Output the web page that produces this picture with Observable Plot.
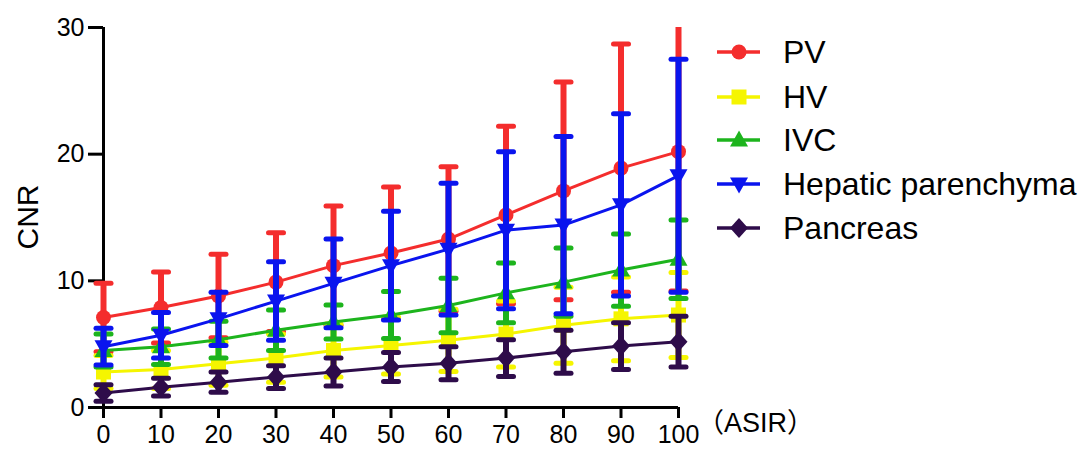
<!DOCTYPE html>
<html><head><meta charset="utf-8">
<script src="https://cdn.jsdelivr.net/npm/d3@7"></script>
<script src="https://cdn.jsdelivr.net/npm/@observablehq/plot@0.6"></script>
<style>
body{margin:0;background:#fff;}
#wrap{position:relative;width:1089px;height:449px;overflow:hidden;background:#fff;font-family:"Liberation Sans",Arial,"Noto Sans CJK SC",sans-serif;color:#000;}
#wrap svg.plot{position:absolute;left:0;top:0;}
.ylab{position:absolute;left:28px;top:217px;transform:translate(-50%,-50%) rotate(-90deg);font-size:30px;white-space:nowrap;line-height:1;}
.xlab{position:absolute;left:697px;top:410px;font-size:27px;white-space:nowrap;line-height:1;}
.leg{position:absolute;left:717px;height:36px;display:flex;align-items:center;font-size:32px;white-space:nowrap;line-height:1;}
.leg svg{margin-right:22px;}
</style></head><body><div id="wrap"></div>
<script>
// ASIR levels (x categories)
const asir = [0, 10, 20, 30, 40, 50, 60, 70, 80, 90, 100];
const yTicks = [0, 10, 20, 30];
const seriesNames = ["PV", "HV", "IVC", "Hepatic parenchyma", "Pancreas"];
// means
const pvMean  = [7.1, 7.9, 8.8, 9.9, 11.2, 12.2, 13.3, 15.2, 17.1, 18.9, 20.2];
const hvMean  = [2.8, 3.0, 3.45, 3.9, 4.5, 4.9, 5.3, 5.8, 6.5, 7.0, 7.3];
const ivcMean = [4.5, 4.8, 5.35, 6.1, 6.75, 7.3, 8.05, 9.05, 9.9, 10.85, 11.7];
const hepMean = [4.8, 5.7, 7.0, 8.4, 9.8, 11.2, 12.5, 14.0, 14.4, 16.0, 18.3];
const panMean = [1.15, 1.6, 2.0, 2.4, 2.8, 3.2, 3.5, 3.9, 4.4, 4.85, 5.2];
// standard deviations (error bars)
const pvSD  = [2.7, 2.8, 3.3, 3.9, 4.7, 5.2, 5.7, 7.0, 8.6, 9.8, 11.0];
const hvSD  = [1.3, 1.5, 1.7, 1.9, 2.1, 2.25, 2.45, 2.6, 3.0, 3.3, 3.35];
const ivcSD = [1.3, 1.4, 1.45, 1.6, 1.35, 1.85, 2.15, 2.35, 2.7, 2.85, 3.1];
const hepSD = [1.45, 1.8, 2.1, 3.1, 3.5, 4.3, 5.2, 6.2, 7.0, 7.2, 9.2];
const panSD = [0.65, 0.7, 0.8, 0.9, 1.1, 1.15, 1.3, 1.45, 1.7, 1.85, 2.0];

const colors = ["#f42d2d", "#f5f500", "#1db41d", "#0a14ee", "#2e0c4a"];

// marker shapes
const symSquare = {draw(c){ c.rect(-7.5, -7.5, 15, 15); }};
const symTriUp = {draw(c){ c.moveTo(0, -9.5); c.lineTo(9, 6.5); c.lineTo(-9, 6.5); c.closePath(); }};
const symTriDown = {draw(c){ c.moveTo(0, 9.5); c.lineTo(9, -6.5); c.lineTo(-9, -6.5); c.closePath(); }};
const symDiamond = {draw(c){ c.moveTo(0, -10); c.lineTo(9, 0); c.lineTo(0, 10); c.lineTo(-9, 0); c.closePath(); }};
const symCircle = {draw(c){ c.moveTo(7.5, 0); c.arc(0, 0, 7.5, 0, 2 * Math.PI); }};
const symCap = {draw(c){ c.moveTo(-7.5, 0); c.lineTo(7.5, 0); }};
const symbols = [symCircle, symSquare, symTriUp, symTriDown, symDiamond];

const means = [pvMean, hvMean, ivcMean, hepMean, panMean];
const sds = [pvSD, hvSD, ivcSD, hepSD, panSD];
const yMax = yTicks[yTicks.length - 1];

const marks = [
  Plot.ruleY([0], {stroke: "#000", strokeWidth: 3}),
  Plot.ruleX([0], {stroke: "#000", strokeWidth: 3}),
  Plot.axisX({ticks: asir, tickSize: 11, tickPadding: 7, strokeWidth: 3, fontSize: 25, label: null, tickFormat: d => String(d)}),
  Plot.axisY({ticks: yTicks, tickSize: 15, tickPadding: 4, strokeWidth: 3, fontSize: 25, label: null, tickFormat: d => String(d)})
];

seriesNames.forEach((name, k) => {
  const rows = asir.map((x, i) => ({x, m: means[k][i], lo: means[k][i] - sds[k][i], hi: means[k][i] + sds[k][i]}));
  const col = colors[k];
  marks.push(
    Plot.ruleX(rows, {x: "x", y1: "lo", y2: d => Math.min(d.hi, yMax), stroke: col, strokeWidth: 6}),
    Plot.dot(rows.filter(d => d.hi <= yMax), {x: "x", y: "hi", symbol: symCap, stroke: col, strokeWidth: 5, fill: "none", strokeLinecap: "round"}),
    Plot.dot(rows, {x: "x", y: "lo", symbol: symCap, stroke: col, strokeWidth: 5, fill: "none", strokeLinecap: "round"}),
    Plot.line(rows, {x: "x", y: "m", stroke: col, strokeWidth: 3}),
    Plot.dot(rows, {x: "x", y: "m", symbol: symbols[k], fill: col, stroke: "none", r: 7})
  );
});

const chart = Plot.plot({
  width: 1089, height: 449,
  marginTop: 27, marginBottom: 42, marginLeft: 103, marginRight: 411,
  x: {domain: [0, 100]},
  y: {domain: [0, yMax]},
  style: {fontSize: "25px", fontFamily: "'Liberation Sans', Arial, sans-serif", color: "#000", background: "#fff"},
  marks
});
chart.classList.add("plot");
const wrap = document.getElementById("wrap");
wrap.appendChild(chart);

const yl = document.createElement("div");
yl.className = "ylab"; yl.textContent = "CNR"; wrap.appendChild(yl);
const xl = document.createElement("div");
xl.className = "xlab"; xl.textContent = "（ASIR）"; wrap.appendChild(xl);

// legend
const legendY = [52, 97, 140, 184, 228];
seriesNames.forEach((name, k) => {
  const row = document.createElement("div");
  row.className = "leg";
  row.style.top = (legendY[k] - 18) + "px";
  const ns = "http://www.w3.org/2000/svg";
  const svg = document.createElementNS(ns, "svg");
  svg.setAttribute("width", 44); svg.setAttribute("height", 36);
  const ln = document.createElementNS(ns, "line");
  ln.setAttribute("x1", 0); ln.setAttribute("x2", 43); ln.setAttribute("y1", 18); ln.setAttribute("y2", 18);
  ln.setAttribute("stroke", colors[k]); ln.setAttribute("stroke-width", 3.5);
  svg.appendChild(ln);
  const p = d3.path(); symbols[k].draw(p);
  const path = document.createElementNS(ns, "path");
  path.setAttribute("d", p.toString()); path.setAttribute("fill", colors[k]);
  path.setAttribute("transform", "translate(22,18)");
  svg.appendChild(path);
  row.appendChild(svg);
  const t = document.createElement("span"); t.textContent = name;
  row.appendChild(t);
  wrap.appendChild(row);
});
</script>
</body></html>
